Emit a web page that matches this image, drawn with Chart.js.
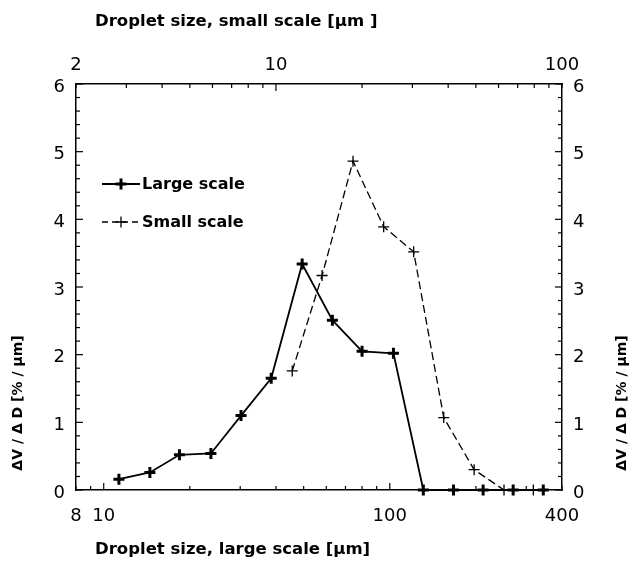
<!DOCTYPE html>
<html><head><meta charset="utf-8">
<script src="https://cdn.jsdelivr.net/npm/chart.js@4/dist/chart.umd.min.js"></script>
<style>html,body{margin:0;padding:0;background:#fff;}#wrap{width:643px;height:565px;}</style>
</head><body><div id="wrap"><canvas id="c" width="643" height="565"></canvas></div>
<script>
// ---- data ----
const sizesLarge  = [11.3, 14.5, 18.4, 23.7, 30.2, 38.5, 49.4, 63.0, 80.0, 103, 131, 167, 212, 270, 344]; // µm, large scale
const valuesLarge = [0.16, 0.26, 0.52, 0.54, 1.10, 1.65, 3.34, 2.51, 2.05, 2.02, 0, 0, 0, 0, 0];
const sizesSmall  = [11.4, 14.5, 18.6, 23.8, 30.3, 38.6, 49.3, 62.7, 79.4]; // µm, small scale
const valuesSmall = [1.76, 3.17, 4.86, 3.89, 3.52, 1.07, 0.30, 0, 0];
const seriesNames = ['Large scale', 'Small scale'];
const bottomTicks = [8, 9, 10, 20, 30, 40, 50, 60, 70, 80, 90, 100, 200, 300, 400];
const bottomLabels = [8, 10, 100, 400];
const bottomMajor = [10, 100];
const topTicks = [2, 3, 4, 5, 6, 7, 8, 9, 10, 20, 30, 40, 50, 60, 70, 80, 90, 100];
const topLabels = [2, 10, 100];
const topMajor = [10];
const yLabels = [0, 1, 2, 3, 4, 5, 6];
const yMinorStep = 0.2;
const titleTop = 'Droplet size, small scale [µm ]';
const titleBottom = 'Droplet size, large scale [µm]';
const titleY = 'ΔV / Δ D [% / µm]';

const yTicks = [];
for (let i = 0; i <= Math.round(6 / yMinorStep); i++) yTicks.push(+(i * yMinorStep).toFixed(4));
const isInt = v => Math.abs(v - Math.round(v)) < 1e-6;

const TICK_FONT = {family: 'DejaVu Sans', size: 18};

function drawCross(ctx, x, y, r, w) {
  ctx.save(); ctx.lineWidth = w; ctx.setLineDash([]);
  ctx.beginPath(); ctx.moveTo(x - r, y); ctx.lineTo(x + r, y);
  ctx.moveTo(x, y - r); ctx.lineTo(x, y + r); ctx.stroke(); ctx.restore();
}

const decor = {
  id: 'decor',
  afterDraw(chart) {
    const ctx = chart.ctx, a = chart.chartArea;
    const sx = chart.scales.x, sx2 = chart.scales.x2, sy = chart.scales.y, sy2 = chart.scales.y2;
    ctx.save();
    ctx.strokeStyle = '#000'; ctx.fillStyle = '#000'; ctx.lineWidth = 1.2;
    const ln = (x1, y1, x2, y2) => { ctx.beginPath(); ctx.moveTo(x1, y1); ctx.lineTo(x2, y2); ctx.stroke(); };
    bottomTicks.forEach(v => { const p = sx.getPixelForValue(v); ln(p, a.bottom, p, a.bottom - (bottomMajor.includes(v) ? 7 : 4)); });
    topTicks.forEach(v => { const p = sx2.getPixelForValue(v); ln(p, a.top, p, a.top + (topMajor.includes(v) ? 7 : 4)); });
    yTicks.forEach(v => {
      const L = isInt(v) ? 7 : 4;
      const p = sy.getPixelForValue(v); ln(a.left, p, a.left + L, p);
      const q = sy2.getPixelForValue(v); ln(a.right, q, a.right - L, q);
    });
    // titles
    ctx.font = 'bold 16.5px "DejaVu Sans"';
    ctx.textBaseline = 'middle'; ctx.textAlign = 'left';
    ctx.fillText(titleTop, 95, 22);
    ctx.fillText(titleBottom, 95, 550);
    ctx.font = 'bold 14px "DejaVu Sans"'; ctx.textAlign = 'center';
    [18, 622].forEach(x => { ctx.save(); ctx.translate(x, 403); ctx.rotate(-Math.PI / 2); ctx.fillText(titleY, 0, 0); ctx.restore(); });
    // legend
    const ds = chart.data.datasets;
    [184, 222].forEach((y, i) => {
      const d = ds[i];
      ctx.save();
      ctx.lineWidth = d.borderWidth; ctx.setLineDash(i === 1 ? [6, 4] : []);
      ln(102, y, 140, y);
      ctx.restore();
      drawCross(ctx, 121, y, d.pointRadius, d.pointBorderWidth);
      ctx.font = 'bold 16px "DejaVu Sans"'; ctx.textAlign = 'left'; ctx.textBaseline = 'middle';
      ctx.fillText(d.label, 142, y + 1);
    });
    ctx.restore();
  }
};

const logAxis = (pos, min, max, ticks, labels) => ({
  type: 'logarithmic', position: pos, min: min, max: max,
  afterBuildTicks: s => { s.ticks = ticks.map(v => ({value: v})); },
  afterFit: s => { s.height = pos === 'bottom' ? 75 : 84; },
  grid: {display: false, drawTicks: false},
  border: {display: true, color: '#000', width: 1.5},
  ticks: {autoSkip: false, maxRotation: 0, minRotation: 0, padding: pos === 'bottom' ? 16 : 8, color: '#000', font: TICK_FONT,
          callback: v => labels.includes(v) ? String(v) : ''}
});
const linAxis = (pos) => ({
  type: 'linear', position: pos, min: 0, max: 6,
  afterBuildTicks: s => { s.ticks = yTicks.map(v => ({value: v})); },
  afterFit: s => { s.width = pos === 'left' ? 76 : 81; },
  grid: {display: false, drawTicks: false},
  border: {display: true, color: '#000', width: 1.5},
  ticks: {autoSkip: false, padding: 11, labelOffset: 3, color: '#000', font: TICK_FONT,
          callback: v => (isInt(v) && yLabels.includes(Math.round(v))) ? String(Math.round(v)) : ''}
});

new Chart(document.getElementById('c'), {
  type: 'line',
  data: {datasets: [
    {label: seriesNames[0], data: sizesLarge.map((x, i) => ({x: x, y: valuesLarge[i]})), xAxisID: 'x', yAxisID: 'y',
     borderColor: '#000', backgroundColor: '#000', borderWidth: 1.8, pointStyle: 'cross', pointRadius: 5.5,
     pointBorderWidth: 3, pointBorderColor: '#000', fill: false, tension: 0, clip: false},
    {label: seriesNames[1], data: sizesSmall.map((x, i) => ({x: x, y: valuesSmall[i]})), xAxisID: 'x2', yAxisID: 'y',
     borderColor: '#000', backgroundColor: '#000', borderWidth: 1.3, borderDash: [8, 4], pointStyle: 'cross', pointRadius: 5.5,
     pointBorderWidth: 1.3, pointBorderColor: '#000', fill: false, tension: 0, clip: false}
  ]},
  options: {
    responsive: false, animation: false, devicePixelRatio: 1,
    layout: {padding: 0},
    plugins: {legend: {display: false}, tooltip: {enabled: false}},
    scales: {
      x: logAxis('bottom', 8, 400, bottomTicks, bottomLabels),
      x2: logAxis('top', 2, 100, topTicks, topLabels),
      y: linAxis('left'),
      y2: linAxis('right')
    }
  },
  plugins: [decor]
});
</script></body></html>
